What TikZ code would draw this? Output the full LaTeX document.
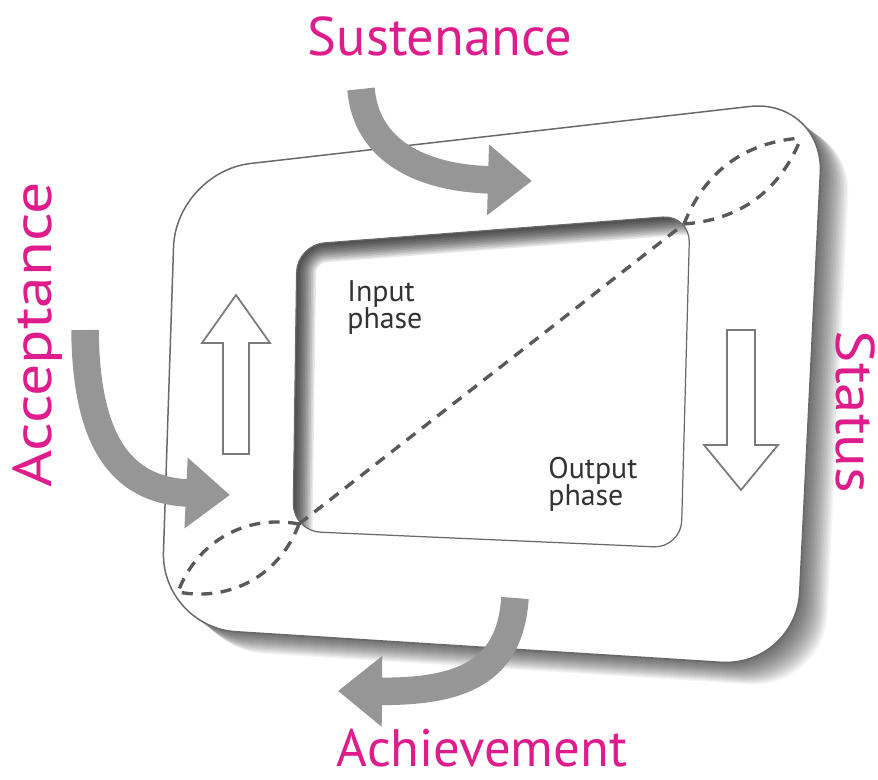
\documentclass[tikz,border=0pt]{standalone}
\usepackage{fontspec}
\setmainfont{PT Sans}
\usetikzlibrary{arrows.meta}

\definecolor{labelpink}{RGB}{222,28,140}
\definecolor{flowgray}{RGB}{150,150,150}
\definecolor{edgegray}{RGB}{105,105,105}

\newcommand{\outerframe}{(176,172) -- (824,98) -- (796,667) -- (161,627) -- cycle}
\newcommand{\innerframe}{(297,245) -- (690,215) -- (681,548) -- (293,531) -- cycle}

\tikzset{
    flow/.style={draw=flowgray, line width=0.55cm, -{Triangle[length=0.88cm, width=1.36cm]}},
    heading/.style={text=labelpink, font=\fontsize{31}{36}\selectfont, inner sep=0pt, anchor=base},
    phase/.style={text=black!80, font=\fontsize{17}{15.5}\selectfont, align=left, inner sep=0pt, anchor=north west},
    hollow/.style={draw=black!52, line width=1pt, fill=white},
    seam/.style={draw=black!65, line width=1.9pt, dash pattern=on 0.22cm off 0.17cm},
}

\begin{document}
\begin{tikzpicture}[x=0.02cm, y=-0.02cm]
    \useasboundingbox (0,0) rectangle (878,780);

    \foreach \i in {1,...,20}
        \fill[black, opacity=0.04, rounded corners=1.5cm, shift={(\i*1.4,\i*1.1)}] \outerframe;
    \filldraw[fill=white, draw=edgegray, line width=0.85pt, rounded corners=1.5cm] \outerframe;

    \begin{scope}
        \clip[rounded corners=0.55cm] \innerframe;
        \foreach \i in {1,...,12}
            \draw[black, opacity=0.09, line width=\i*0.065cm, rounded corners=0.55cm] (293,531) -- (297,245) -- (690,215);
    \end{scope}
    \draw[edgegray, line width=0.7pt, rounded corners=0.55cm] \innerframe;

    \coordinate (OBL) at (178,592);
    \coordinate (IBL) at (299,524);
    \coordinate (ITR) at (684,224);
    \coordinate (OTR) at (801,138);

    \path [seam] (IBL) edge (ITR);
    \path [seam] (IBL) edge [bend left=40] (OBL);
    \path [seam] (IBL) edge [bend right=40] (OBL);
    \path [seam] (ITR) edge [bend left=32] (OTR);
    \path [seam] (ITR) edge [bend right=32] (OTR);

    \draw[hollow] (236,295) -- (270,343) -- (249,343) -- (249,454) -- (223,454) -- (223,343) -- (202,343) -- cycle;
    \draw[hollow] (741,490) -- (778,445) -- (755,445) -- (755,330) -- (727,330) -- (727,445) -- (704,445) -- cycle;

    \coordinate (S1) at (361,89);
    \coordinate (S2) at (532,181);
    \coordinate (A1) at (85,330);
    \coordinate (A2) at (230,495);
    \coordinate (H1) at (515,598);
    \coordinate (H2) at (338,691);

    \draw[flow] (S1) .. controls (366,150) and (420,178) .. (S2);
    \draw[flow] (A1) .. controls (86,440) and (120,490) .. (A2);
    \draw[flow] (H1) .. controls (510,670) and (465,692) .. (H2);

    \node[heading] (S) at (440,56) {Sustenance};
    \node[heading, rotate=90, xscale=1.17] (A) at (51,335) {Acceptance};
    \node[heading, rotate=-90, xscale=1.12] (T) at (836,412) {Status};
    \node[heading, font=\fontsize{30}{36}\selectfont] (H) at (482,766) {Achievement};

    \node[phase] (I) at (347,280) {Input\\phase};
    \node[phase] (O) at (548,457) {Output\\phase};
\end{tikzpicture}
\end{document}
